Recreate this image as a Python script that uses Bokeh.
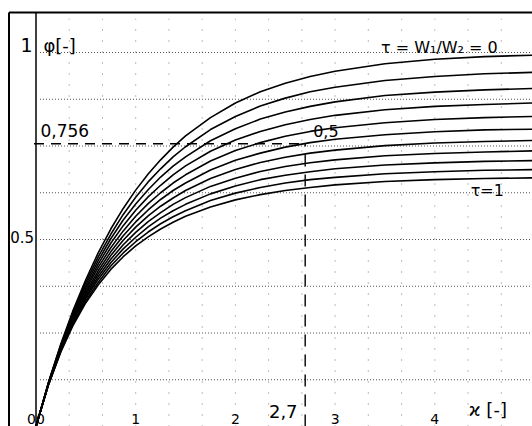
from bokeh.plotting import figure
from bokeh.models import Range1d
from bokeh.core.properties import value
from bokeh.embed import file_html
from bokeh.resources import INLINE

# ---- data ----
kappa = [0, 0.125, 0.25, 0.375, 0.5, 0.625, 0.75, 0.875, 1, 1.125, 1.25, 1.375, 1.5,
         1.75, 2, 2.25, 2.5, 2.75, 3, 3.5, 4, 4.5, 5]

phi_t00 = [0, 0.118, 0.221, 0.313, 0.393, 0.465, 0.528, 0.583, 0.632, 0.675, 0.713, 0.747, 0.777, 0.826, 0.865, 0.895, 0.918, 0.936, 0.950, 0.970, 0.982, 0.989, 0.993]
phi_t01 = [0, 0.117, 0.219, 0.308, 0.386, 0.454, 0.514, 0.567, 0.613, 0.654, 0.689, 0.721, 0.748, 0.794, 0.829, 0.857, 0.878, 0.895, 0.907, 0.925, 0.936, 0.943, 0.947]
phi_t02 = [0, 0.116, 0.216, 0.303, 0.379, 0.444, 0.502, 0.552, 0.595, 0.633, 0.667, 0.696, 0.721, 0.764, 0.796, 0.822, 0.841, 0.856, 0.868, 0.885, 0.894, 0.900, 0.904]
phi_t03 = [0, 0.116, 0.214, 0.299, 0.372, 0.435, 0.490, 0.537, 0.578, 0.614, 0.645, 0.673, 0.697, 0.736, 0.766, 0.789, 0.807, 0.821, 0.832, 0.847, 0.856, 0.861, 0.865]
phi_t04 = [0, 0.115, 0.212, 0.295, 0.366, 0.426, 0.478, 0.523, 0.562, 0.596, 0.625, 0.651, 0.673, 0.710, 0.738, 0.759, 0.776, 0.789, 0.799, 0.812, 0.821, 0.826, 0.829]
phi_t05 = [0, 0.114, 0.210, 0.291, 0.359, 0.417, 0.467, 0.510, 0.547, 0.579, 0.607, 0.631, 0.651, 0.686, 0.712, 0.731, 0.747, 0.759, 0.768, 0.780, 0.788, 0.793, 0.795]
phi_t06 = [0, 0.114, 0.208, 0.287, 0.353, 0.409, 0.457, 0.498, 0.533, 0.563, 0.589, 0.611, 0.631, 0.663, 0.687, 0.706, 0.720, 0.731, 0.739, 0.751, 0.758, 0.762, 0.765]
phi_t07 = [0, 0.113, 0.206, 0.283, 0.347, 0.401, 0.447, 0.486, 0.519, 0.548, 0.572, 0.594, 0.612, 0.642, 0.664, 0.682, 0.695, 0.705, 0.713, 0.724, 0.730, 0.734, 0.737]
phi_t08 = [0, 0.112, 0.204, 0.279, 0.342, 0.394, 0.438, 0.475, 0.506, 0.534, 0.557, 0.577, 0.594, 0.622, 0.643, 0.660, 0.672, 0.681, 0.689, 0.699, 0.705, 0.709, 0.711]
phi_t09 = [0, 0.112, 0.202, 0.276, 0.336, 0.386, 0.429, 0.464, 0.494, 0.520, 0.542, 0.561, 0.577, 0.604, 0.624, 0.639, 0.651, 0.660, 0.666, 0.676, 0.681, 0.685, 0.687]
phi_t10 = [0, 0.111, 0.200, 0.272, 0.331, 0.379, 0.420, 0.454, 0.483, 0.507, 0.528, 0.546, 0.562, 0.587, 0.606, 0.620, 0.631, 0.639, 0.646, 0.655, 0.660, 0.663, 0.665]

tau_values = [0.0, 0.1, 0.2, 0.3, 0.4, 0.5, 0.6, 0.7, 0.8, 0.9, 1.0]

x_tick_values = [1, 2, 3, 4]
x_tick_labels = ["1", "2", "3", "4"]
y_tick_values = [1.0, 0.5]
y_tick_labels = ["1", "0.5"]

grid_y = [0.125, 0.25, 0.375, 0.5, 0.625, 0.75, 0.875, 1.0]
grid_x = [0.333, 0.667, 1.0, 1.333, 1.667, 2.0, 2.333, 2.667, 3.0, 3.333, 3.667, 4.0, 4.333, 4.667]

kappa_read = 2.7
phi_read = 0.756

# ---- layout ----
W, H = 532, 426
px_x = 99.7       # pixels per unit kappa
px_y = 374.0      # pixels per unit phi
x_origin = 35.5   # canvas px of kappa = 0
x_start = -x_origin / px_x
x_end = (W - x_origin) / px_x
y_start = 0.0
y_end = H / px_y
y_top = (H - 12) / px_y
x_left = x_start + 8.5 / px_x

FONT = value("DejaVu Sans")

p = figure(width=W, height=H,
           x_range=Range1d(x_start, x_end), y_range=Range1d(y_start, y_end),
           output_backend="svg", toolbar_location=None,
           x_axis_type=None, y_axis_type=None,
           min_border=0, outline_line_color=None,
           background_fill_color="white", border_fill_color="white")
p.grid.visible = False

# dotted grid
p.segment(x0=[0.04] * len(grid_y), y0=grid_y, x1=[x_end] * len(grid_y), y1=grid_y,
          line_color="#333333", line_width=1, line_dash="1 2", line_alpha=0.85)
p.segment(x0=grid_x, y0=[0.0] * len(grid_x), x1=grid_x, y1=[1.09] * len(grid_x),
          line_color="#444444", line_width=1, line_dash="1 10", line_alpha=0.7)

# frame and axis line
p.segment(x0=[x_left], y0=[y_top], x1=[x_end], y1=[y_top], line_color="black", line_width=2)
p.segment(x0=[x_left], y0=[0], x1=[x_left], y1=[y_top], line_color="black", line_width=2)
p.segment(x0=[0], y0=[0], x1=[0], y1=[y_top], line_color="black", line_width=1.5)

# curves (one per tau value)
curves = [phi_t00, phi_t01, phi_t02, phi_t03, phi_t04, phi_t05,
          phi_t06, phi_t07, phi_t08, phi_t09, phi_t10]
p.multi_line(xs=[kappa] * len(curves), ys=curves, line_color="black", line_width=1.6)

# reading lines
p.line([-0.02, kappa_read], [phi_read, phi_read], line_color="black", line_width=1.4, line_dash="10 7")
p.line([kappa_read, kappa_read], [0, phi_read], line_color="black", line_width=1.4, line_dash="12 8")

# tick labels
p.text(x=x_tick_values, y=[0.008] * 4, text=x_tick_labels, text_font=FONT,
       text_font_size="14px", text_align="center", text_baseline="bottom", text_color="black")
p.text(x=[-0.035], y=[1.019], text=[y_tick_labels[0]],
       text_font=FONT, text_font_size="19px", text_align="right", text_baseline="middle",
       text_color="black")
p.text(x=[-0.02], y=[0.508], text=[y_tick_labels[1]],
       text_font=FONT, text_font_size="15px", text_align="right", text_baseline="middle",
       text_color="black")
p.text(x=[0.0], y=[0.006], text=["00"], text_font=FONT, text_font_size="14px",
       text_align="center", text_baseline="bottom", text_color="black")

# annotations
p.text(x=[0.075], y=[1.02], text=["φ[-]"], text_font=FONT, text_font_size="18px",
       text_align="left", text_baseline="middle", text_color="black")
p.text(x=[0.045], y=[0.791], text=["0,756"], text_font=FONT, text_font_size="17px",
       text_align="left", text_baseline="middle", text_color="black")
p.text(x=[2.48], y=[0.04], text=["2,7"], text_font=FONT, text_font_size="18px",
       text_align="center", text_baseline="middle", text_color="black")
p.text(x=[4.34], y=[0.045], text=["ϰ [-]"], text_font=FONT, text_font_size="18px",
       text_align="left", text_baseline="middle", text_color="black")
p.text(x=[3.46], y=[1.013], text=["τ = W₁/W₂ = 0"], text_font=FONT, text_font_size="16px",
       text_align="left", text_baseline="middle", text_color="black")
p.text(x=[2.78], y=[0.789], text=["0,5"], text_font=FONT, text_font_size="16px",
       text_align="left", text_baseline="middle", text_color="black")
p.text(x=[4.36], y=[0.631], text=["τ=1"], text_font=FONT, text_font_size="16px",
       text_align="left", text_baseline="middle", text_color="black")

open("out.html", "w").write(file_html(p, INLINE))
